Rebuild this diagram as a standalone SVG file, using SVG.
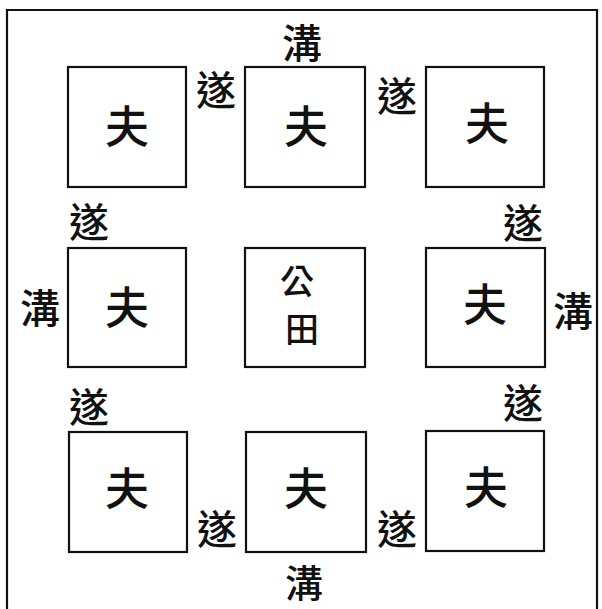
<svg xmlns="http://www.w3.org/2000/svg" width="602" height="609" viewBox="0 0 602 609">
<style>
.box{fill:#fff;stroke:#111;stroke-width:2.2}
.frame{fill:none;stroke:#111;stroke-width:2.2}
text{font-family:"Noto Sans CJK TC","Noto Sans CJK SC",serif;fill:#111;text-anchor:middle;dominant-baseline:central;font-weight:500}
.f{font-size:44px}
.g{font-size:34px}
.s{font-size:40px}
.b{font-size:38px}
</style>
<rect width="602" height="609" fill="#fff"/>
<g id="frame"><path class="frame" d="M7,609 V10 H597 V609"/></g>
<g id="labels">
<text class="s" x="302" y="41">溝</text>
<text class="b" x="304" y="580">溝</text>
<text class="s" x="40" y="306">溝</text>
<text class="s" x="573" y="309">溝</text>
<text class="s" x="216" y="88">遂</text>
<text class="s" x="397" y="94">遂</text>
<text class="s" x="89" y="220">遂</text>
<text class="s" x="89" y="405">遂</text>
<text class="s" x="523" y="221">遂</text>
<text class="s" x="523" y="401">遂</text>
<text class="s" x="217" y="527">遂</text>
<text class="s" x="397" y="527">遂</text>
</g>
<g id="n1"><rect class="box" x="68" y="67" width="118" height="120"/><text class="f" x="127" y="124">夫</text></g>
<g id="n2"><rect class="box" x="245" y="67" width="120" height="120"/><text class="f" x="306" y="124">夫</text></g>
<g id="n3"><rect class="box" x="426" y="67" width="118" height="120"/><text class="f" x="487" y="121">夫</text></g>
<g id="n4"><rect class="box" x="68" y="248" width="118" height="119"/><text class="f" x="127" y="305">夫</text></g>
<g id="n5"><rect class="box" x="245" y="248" width="120" height="119"/><text class="g" x="297" y="279">公</text><text class="g" x="302" y="327">田</text></g>
<g id="n6"><rect class="box" x="426" y="248" width="119" height="119"/><text class="f" x="485" y="302">夫</text></g>
<g id="n7"><rect class="box" x="69" y="432" width="118" height="120"/><text class="f" x="127" y="486">夫</text></g>
<g id="n8"><rect class="box" x="246" y="432" width="120" height="120"/><text class="f" x="306" y="486">夫</text></g>
<g id="n9"><rect class="box" x="426" y="431" width="118" height="120"/><text class="f" x="486" y="485">夫</text></g>
</svg>
